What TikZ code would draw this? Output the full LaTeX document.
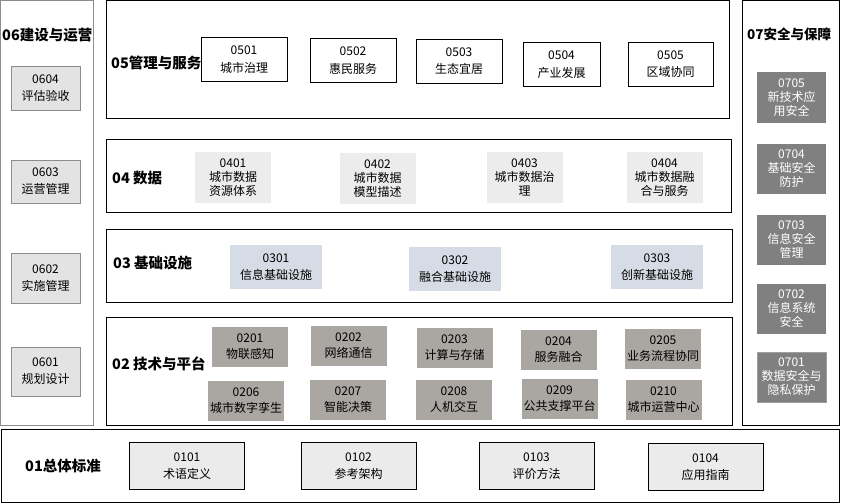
\documentclass[tikz,border=0pt]{standalone}
\usepackage{fontspec}
\setmainfont{Noto Sans CJK SC}
\definecolor{leftgray}{HTML}{E3E3E3}
\definecolor{leftline}{HTML}{8C8C8C}
\definecolor{datagray}{HTML}{ECECEC}
\definecolor{infrablue}{HTML}{D6DCE5}
\definecolor{techgray}{HTML}{AAA7A3}
\definecolor{secgray}{HTML}{808080}
\definecolor{stdgray}{HTML}{EBEBEB}
\begin{document}
\begin{tikzpicture}[x=1pt,y=-1pt,
    frame/.style={draw=black,line width=1pt},
    layer/.style={anchor=west,inner sep=0pt,font=\fontsize{14.5}{16}\selectfont\bfseries},
    box/.style={inner sep=0pt,align=center,font=\fontsize{12}{14}\selectfont},
    opbox/.style={box,draw=leftline,fill=leftgray,minimum width=69pt,font=\fontsize{12}{17}\selectfont},
    svbox/.style={box,draw=black,fill=white,minimum height=44pt,font=\fontsize{12}{17.5}\selectfont},
    dtbox/.style={box,fill=datagray,minimum width=76pt,minimum height=51pt,font=\fontsize{12}{14}\selectfont},
    inbox/.style={box,fill=infrablue,minimum width=92pt,minimum height=44pt,font=\fontsize{12}{17}\selectfont},
    tcbox/.style={box,fill=techgray,minimum width=76pt,minimum height=40pt,font=\fontsize{12}{16}\selectfont},
    scbox/.style={box,fill=secgray,text=white,minimum width=69pt,minimum height=50pt,font=\fontsize{12}{14}\selectfont},
    sdbox/.style={box,draw=black,fill=stdgray,minimum width=115pt,minimum height=47pt,font=\fontsize{12}{17.5}\selectfont}]
    \useasboundingbox (0,0) rectangle (841,503);
    \draw[draw=leftline,line width=1pt] (0.5,0.5) rectangle (93,425);
    \draw[frame] (106,1) rectangle (729,118);
    \draw[frame] (106,139) rectangle (731,212);
    \draw[frame] (106,229) rectangle (732,302);
    \draw[frame] (106,317) rectangle (732,425);
    \draw[frame] (742,1) rectangle (839,425);
    \draw[frame] (1,429) rectangle (839,502);

    \node[layer] (L06) at (2,35) {06建设与运营};
    \node[opbox,minimum height=44pt] (B0604) at (45.5,88) {0604\\评估验收};
    \node[opbox,minimum height=43pt] (B0603) at (45.5,181.5) {0603\\运营管理};
    \node[opbox,minimum height=50pt] (B0602) at (45.5,278) {0602\\实施管理};
    \node[opbox,minimum height=49pt] (B0601) at (45.5,371.5) {0601\\规划设计};

    \node[layer] (L05) at (111,63) {05管理与服务};
    \node[svbox,minimum width=86pt] (B0501) at (244,59.5) {0501\\城市治理};
    \node[svbox,minimum width=86pt] (B0502) at (353,60.5) {0502\\惠民服务};
    \node[svbox,minimum width=86pt] (B0503) at (459,61) {0503\\生态宜居};
    \node[svbox,minimum width=77pt] (B0504) at (561.5,64.5) {0504\\产业发展};
    \node[svbox,minimum width=85pt] (B0505) at (670.5,64) {0505\\区域协同};

    \node[layer] (L04) at (112,178) {04 数据};
    \node[dtbox] (B0401) at (233,177.5) {0401\\城市数据\\资源体系};
    \node[dtbox] (B0402) at (377.5,178.5) {0402\\城市数据\\模型描述};
    \node[dtbox] (B0403) at (524.5,177.5) {0403\\城市数据治\\理};
    \node[dtbox] (B0404) at (664.5,177.5) {0404\\城市数据融\\合与服务};

    \node[layer] (L03) at (113,263) {03 基础设施};
    \node[inbox] (B0301) at (276,267) {0301\\信息基础设施};
    \node[inbox] (B0302) at (455,269) {0302\\融合基础设施};
    \node[inbox] (B0303) at (657,267) {0303\\创新基础设施};

    \node[layer] (L02) at (112,364) {02 技术与平台};
    \node[tcbox] (B0201) at (250,346.5) {0201\\物联感知};
    \node[tcbox] (B0202) at (348.5,346) {0202\\网络通信};
    \node[tcbox] (B0203) at (454.5,347.5) {0203\\计算与存储};
    \node[tcbox] (B0204) at (558.5,350) {0204\\服务融合};
    \node[tcbox] (B0205) at (663,349) {0205\\业务流程协同};
    \node[tcbox] (B0206) at (246,400.5) {0206\\城市数字孪生};
    \node[tcbox] (B0207) at (348,400) {0207\\智能决策};
    \node[tcbox] (B0208) at (454,399.5) {0208\\人机交互};
    \node[tcbox] (B0209) at (559.5,399) {0209\\公共支撑平台};
    \node[tcbox] (B0210) at (663.5,400) {0210\\城市运营中心};

    \node[layer,font=\fontsize{13.5}{15}\selectfont\bfseries] (L07) at (747,34) {07安全与保障};
    \node[scbox] (B0705) at (791.5,97.5) {0705\\新技术应\\用安全};
    \node[scbox] (B0704) at (791.5,168.5) {0704\\基础安全\\防护};
    \node[scbox] (B0703) at (791.5,240) {0703\\信息安全\\管理};
    \node[scbox] (B0702) at (791.5,309) {0702\\信息系统\\安全};
    \node[scbox,draw=leftgray!70!black] (B0701) at (791.5,377) {0701\\数据安全与\\隐私保护};

    \node[layer] (L01) at (25,466) {01总体标准};
    \node[sdbox] (B0101) at (187,466) {0101\\术语定义};
    \node[sdbox] (B0102) at (358.5,466) {0102\\参考架构};
    \node[sdbox] (B0103) at (536.5,466) {0103\\评价方法};
    \node[sdbox] (B0104) at (705.5,467) {0104\\应用指南};
  \end{tikzpicture}
\end{document}
